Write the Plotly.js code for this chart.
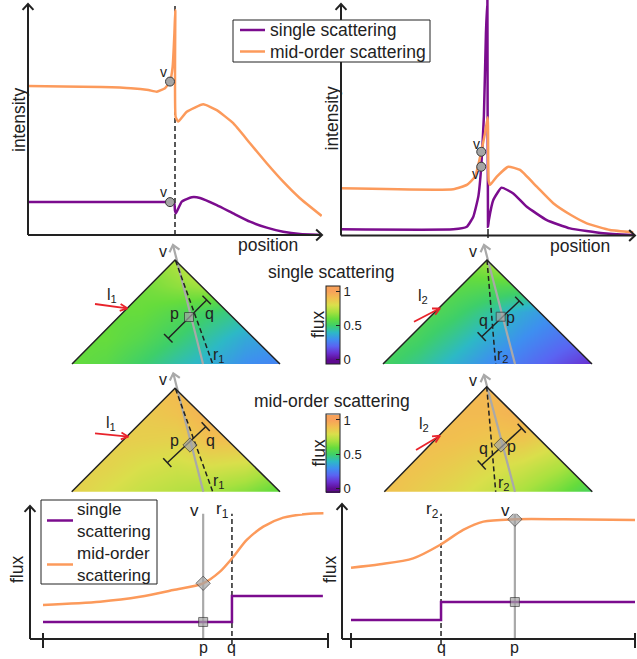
<!DOCTYPE html>
<html>
<head>
<meta charset="utf-8">
<script src="https://cdn.plot.ly/plotly-3.0.1.min.js"></script>
<style>
html,body{margin:0;padding:0;background:#ffffff;}
#chart{width:637px;height:659px;}
</style>
</head>
<body>
<div id="chart"></div>
<script>
// ================= DATA =================
const seriesNames = ['single scattering', 'mid-order scattering'];
const seriesNamesWrapped = ['single<br>scattering', 'mid-order<br>scattering'];

// Top-left: intensity along position (position 0..100)
const tlSinglePos = [0, 24.5, 47.6, 49.7, 50.0, 50.3, 52.3, 55.7, 58.5, 64.2, 69.8, 75.5, 81.2, 86.8, 92.5, 99.9];
const tlSingleInt = [14.3, 14.3, 14.3, 14.1, 10.5, 9.4, 14.5, 16.4, 16.1, 13.0, 9.4, 5.8, 3.2, 1.4, 0.4, 0];
const tlMidPos = [0, 12, 25, 35, 41, 43.8, 46.6, 48.3, 49.2, 49.8, 50.1, 50.2, 51.1, 54.0, 59.6, 64.2, 69.8, 75.5, 81.2, 86.8, 92.5, 99.9];
const tlMidInt = [64.8, 64.6, 64.3, 63.8, 63.0, 62.3, 63.8, 66.7, 73.2, 87.7, 97.8, 51.4, 49.3, 53.6, 56.8, 54.3, 48.6, 39.9, 31.2, 23.2, 16.0, 8.3];
const tlVPos = [48.3, 48.3];
const tlVInt = [14.3, 66.7];
const tlEdgePos = 50;

// Top-right
const trSinglePos = [0, 38.2, 42.8, 45.0, 46.7, 47.7, 48.6, 49.3, 49.8, 50.0, 50.3, 51.8, 54.6, 58.6, 63.2, 70.0, 77.9, 89.2, 99.4];
const trSingleInt = [2.7, 2.7, 3.8, 8.2, 16.9, 29.9, 51.7, 88.0, 102.4, 3.8, 6.7, 15.4, 20.8, 18.3, 12.5, 6.7, 3.1, 1.0, 0.2];
const trMidPos = [0, 38.2, 42.8, 45.6, 47.7, 49.0, 49.9, 50.2, 50.7, 53.0, 56.9, 60.9, 66.6, 72.2, 78.2, 83.6, 91.5, 99.4];
const trMidInt = [20.5, 20.1, 22.0, 25.6, 36.4, 44.6, 51.4, 24.1, 22.0, 25.6, 29.9, 28.5, 21.2, 14.0, 8.9, 5.3, 2.4, 1.4];
const trVPos = [47.7, 47.7];
const trVInt = [29.9, 36.4];
const trEdgePos = 50;

// Bottom-left: flux along the p-q line
const blSinglePos = [0, 66.3, 98.2];
const blSingleFlux = [12.9, 32.6, 32.6];
const blMidPos = [0, 20, 34, 45.7, 56.2, 62.1, 66.8, 71.5, 77.3, 84.3, 92.5, 98.4];
const blMidFlux = [25.8, 28.3, 32.0, 37.1, 42.2, 51.0, 62.3, 75.0, 85.1, 91.9, 94.7, 95.2];
const blP = 56.2, blQ = 66.3;
const blAtP = [12.9, 42.2];   // single, mid-order at p

// Bottom-right
const brSinglePos = [0, 31.7, 100];
const brSingleFlux = [14.4, 28.0, 28.0];
const brMidPos = [0, 10.2, 21.9, 31.3, 39.5, 46.6, 57.7, 74.8, 100];
const brMidFlux = [54.0, 56.6, 61.1, 71.2, 82.6, 88.9, 90.7, 90.7, 90.2];
const brP = 57.7, brQ = 31.7;
const brAtP = [28.0, 90.7];

// Flux fields in the triangles (rows: apex -> base, cols: left -> right)
const fluxSingleLeft = [
  [0.62, 0.62, 0.64, 0.72, 0.86, 0.85, 0.80],
  [0.61, 0.61, 0.62, 0.66, 0.70, 0.60, 0.55],
  [0.60, 0.60, 0.60, 0.56, 0.50, 0.45, 0.42],
  [0.60, 0.60, 0.56, 0.50, 0.43, 0.36, 0.33],
  [0.60, 0.57, 0.50, 0.43, 0.37, 0.30, 0.27]];
const fluxSingleRight = [
  [0.60, 0.60, 0.60, 0.70, 0.80, 0.70, 0.60],
  [0.60, 0.60, 0.58, 0.56, 0.55, 0.45, 0.40],
  [0.58, 0.57, 0.52, 0.45, 0.36, 0.30, 0.28],
  [0.56, 0.52, 0.45, 0.37, 0.30, 0.24, 0.20],
  [0.52, 0.46, 0.38, 0.30, 0.24, 0.17, 0.10]];
const fluxMidLeft = [
  [0.88, 0.88, 0.88, 0.92, 0.97, 0.95, 0.90],
  [0.88, 0.88, 0.87, 0.89, 0.95, 0.93, 0.90],
  [0.87, 0.86, 0.85, 0.84, 0.90, 0.90, 0.85],
  [0.86, 0.84, 0.80, 0.78, 0.80, 0.78, 0.70],
  [0.85, 0.80, 0.76, 0.73, 0.70, 0.65, 0.58]];
const fluxMidRight = [
  [0.92, 0.92, 0.92, 0.93, 0.96, 0.93, 0.90],
  [0.92, 0.92, 0.92, 0.92, 0.95, 0.90, 0.85],
  [0.92, 0.91, 0.90, 0.88, 0.88, 0.82, 0.75],
  [0.91, 0.89, 0.86, 0.82, 0.78, 0.72, 0.64],
  [0.90, 0.86, 0.82, 0.77, 0.70, 0.62, 0.52]];
const cbTickVals = [0, 0.5, 1];
const cbTickText = ['0', '0.5', '1'];
const cbRange = [-0.06, 1.08];

// ================= STYLE / LAYOUT GEOMETRY =================
const W = 637, H = 659;
const FONT = '"Liberation Sans", Arial, Helvetica, sans-serif';
const INK = '#222222', PURPLE = '#7b0c8e', ORANGE = '#fc9a5b', GRAY = '#a9a9a9', RED = '#e8232b';
// colour map defined over flux 0..1, then placed inside the (slightly wider) colour-bar range
const CMAP = [[0, '#5e0a90'], [0.1, '#6a2fd0'], [0.2, '#5a64f2'], [0.3, '#3e8ff0'], [0.4, '#2db9c6'],
  [0.5, '#3ecf6a'], [0.6, '#66dc3c'], [0.7, '#a8e13f'], [0.8, '#dadf4b'], [0.9, '#f1c04f'], [1, '#f8a25a']];
const COLORSCALE = [[0, CMAP[0][1]]].concat(
  CMAP.map(([v, c]) => [(v - cbRange[0]) / (cbRange[1] - cbRange[0]), c]),
  [[1, CMAP[CMAP.length - 1][1]]]);

const PANELS = {
  tl: {L: 28, R: 322, B: 235, T: 0, xr: [0, 100], yr: [0, 102.17]},
  tr: {L: 341, R: 635, B: 235.5, T: 0, xr: [0, 100], yr: [0, 102.39]},
  bl: {L: 30, R: 328, B: 639, T: 503, xr: [-4.56, 100], yr: [0, 103]},
  br: {L: 342, R: 635, B: 639, T: 503, xr: [-3.17, 100], yr: [0, 103]}
};
function pxX(p, x) { return p.L + (x - p.xr[0]) / (p.xr[1] - p.xr[0]) * (p.R - p.L); }
function xAx(p, anchor) { return {domain: [p.L / W, p.R / W], range: p.xr, visible: false, fixedrange: true, anchor}; }
function yAx(p, anchor) { return {domain: [1 - p.B / H, 1 - p.T / H], range: p.yr, visible: false, fixedrange: true, anchor}; }

const TRI = [
  {apex: [175, 260], bl: [72, 364], br: [280, 364], z: fluxSingleLeft, cbY: 325,
   gray: [[203, 364], [173, 245]], dash: [[175.5, 260.5], [212.7, 364]], mark: [189, 317], sym: 'square',
   brk: [[168.3, 338.3], [206.7, 300]], p: [174.3, 313.3], q: [209.3, 313.3], r: [218.5, 355], rT: 'r<sub>1</sub>',
   l: [111.7, 295], lT: 'l<sub>1</sub>', red: [[95, 304], [127.3, 308.3]], v: [163.3, 251.7]},
  {apex: [487, 260], bl: [383, 364], br: [592, 364], z: fluxSingleRight,
   gray: [[515, 364], [484, 245]], dash: [[487, 260], [495.7, 364]], mark: [500.7, 316.7], sym: 'square',
   brk: [[481.7, 336.7], [519.3, 301]], p: [510.5, 317.3], q: [483.3, 320], r: [503, 355], rT: 'r<sub>2</sub>',
   l: [423.3, 296.7], lT: 'l<sub>2</sub>', red: [[414, 321.7], [440, 308.3]], v: [473.3, 251.7]},
  {apex: [175, 388.3], bl: [71.7, 491.7], br: [280, 491.7], z: fluxMidLeft, cbY: 453.5,
   gray: [[203.3, 491.7], [173.3, 373.3]], dash: [[175.5, 388.8], [212.7, 491.7]], mark: [190, 445], sym: 'diamond',
   brk: [[167.3, 462.7], [205.7, 426.7]], p: [174.3, 440], q: [210, 440], r: [218.5, 481.7], rT: 'r<sub>1</sub>',
   l: [110.7, 423.3], lT: 'l<sub>1</sub>', red: [[95, 433.3], [128.3, 436.7]], v: [162.7, 379]},
  {apex: [486.7, 386.7], bl: [384.3, 491.7], br: [592.3, 491.7], z: fluxMidRight,
   gray: [[515, 491.7], [484, 375]], dash: [[486.7, 386.7], [495.7, 491.7]], mark: [501, 445], sym: 'diamond',
   brk: [[481.7, 465], [521.7, 428.3]], p: [511.7, 446.7], q: [483.3, 448.3], r: [503.5, 483.3], rT: 'r<sub>2</sub>',
   l: [424.3, 424.3], lT: 'l<sub>2</sub>', red: [[416, 450], [440, 435.7]], v: [473.3, 380]}
];

// legend boxes (canvas pixels)
const LEG = [
  {box: [233, 20, 430, 62], sym: [240, 265], textX: 268, rows: [30, 51.5], size: 17.5, names: seriesNames},
  {box: [41, 500, 157, 584], sym: [47, 73], textX: 75, rows: [520.5, 564.5], size: 17, names: seriesNamesWrapped}
];

function linspace(a, b, n) { const o = []; for (let i = 0; i < n; i++) o.push(a + (b - a) * i / (n - 1)); return o; }

// ================= TRACES =================
const traces = [];
const lineW = 2.5;
const base = {type: 'scatter', hoverinfo: 'skip', showlegend: false};
function S(o) { return Object.assign({}, base, o); }
const grayMarker = {color: '#a5a5a5', line: {color: '#3a3a3a', width: 1}};

// top-left
traces.push(S({mode: 'lines', x: tlSinglePos, y: tlSingleInt, xaxis: 'x', yaxis: 'y', name: seriesNames[0],
  line: {color: PURPLE, width: lineW, shape: 'spline', smoothing: 0.4}}));
traces.push(S({mode: 'lines', x: tlMidPos, y: tlMidInt, xaxis: 'x', yaxis: 'y', name: seriesNames[1],
  line: {color: ORANGE, width: lineW, shape: 'spline', smoothing: 0.4}}));
traces.push(S({mode: 'markers', x: tlVPos, y: tlVInt, xaxis: 'x', yaxis: 'y', cliponaxis: false,
  marker: Object.assign({symbol: 'circle', size: 9}, grayMarker)}));
// top-right
traces.push(S({mode: 'lines', x: trSinglePos, y: trSingleInt, xaxis: 'x2', yaxis: 'y2', name: seriesNames[0],
  line: {color: PURPLE, width: lineW, shape: 'spline', smoothing: 0.4}}));
traces.push(S({mode: 'lines', x: trMidPos, y: trMidInt, xaxis: 'x2', yaxis: 'y2', name: seriesNames[1],
  line: {color: ORANGE, width: lineW, shape: 'spline', smoothing: 0.4}}));
traces.push(S({mode: 'markers', x: trVPos, y: trVInt, xaxis: 'x2', yaxis: 'y2', cliponaxis: false,
  marker: Object.assign({symbol: 'circle', size: 9}, grayMarker)}));
// bottom-left
traces.push(S({mode: 'lines', x: blSinglePos, y: blSingleFlux, xaxis: 'x3', yaxis: 'y3', name: seriesNames[0],
  line: {color: PURPLE, width: lineW, shape: 'hv'}}));
traces.push(S({mode: 'lines', x: blMidPos, y: blMidFlux, xaxis: 'x3', yaxis: 'y3', name: seriesNames[1],
  line: {color: ORANGE, width: lineW, shape: 'spline', smoothing: 0.8}}));
traces.push(S({mode: 'markers', x: [blP, blP], y: blAtP, xaxis: 'x3', yaxis: 'y3', cliponaxis: false,
  marker: Object.assign({symbol: ['square', 'diamond'], size: [9, 11]}, grayMarker)}));
// bottom-right
traces.push(S({mode: 'lines', x: brSinglePos, y: brSingleFlux, xaxis: 'x4', yaxis: 'y4', name: seriesNames[0],
  line: {color: PURPLE, width: lineW, shape: 'hv'}}));
traces.push(S({mode: 'lines', x: brMidPos, y: brMidFlux, xaxis: 'x4', yaxis: 'y4', name: seriesNames[1],
  line: {color: ORANGE, width: lineW, shape: 'spline', smoothing: 0.8}}));
traces.push(S({mode: 'markers', x: [brP, brP], y: brAtP, xaxis: 'x4', yaxis: 'y4', cliponaxis: false,
  marker: Object.assign({symbol: ['square', 'diamond'], size: [9, 11]}, grayMarker)}));

// triangle heatmaps (canvas axes x5/y5 in pixel units)
TRI.forEach(t => {
  const hm = {type: 'heatmap', xaxis: 'x5', yaxis: 'y5', z: t.z,
    x: linspace(t.bl[0], t.br[0], t.z[0].length), y: linspace(t.apex[1], t.bl[1], t.z.length),
    zmin: cbRange[0], zmax: cbRange[1], colorscale: COLORSCALE, zsmooth: 'best', hoverinfo: 'skip', showscale: t.cbY !== undefined};
  if (t.cbY !== undefined) {
    hm.colorbar = {x: 325.5 / W, xanchor: 'left', y: 1 - t.cbY / H, yanchor: 'middle', len: 78 / H, lenmode: 'fraction',
      thickness: 13.5, thicknessmode: 'pixels', outlinewidth: 1, outlinecolor: INK, tickvals: cbTickVals, ticktext: cbTickText,
      ticks: 'inside', ticklen: 4, tickcolor: INK, tickwidth: 1, tickfont: {size: 13, color: INK, family: FONT},
      xpad: 0, ypad: 0, borderwidth: 0};
  }
  traces.push(hm);
});

// canvas helpers
function chevron(arrX, arrY, tail, tip, len, ang) {
  const dx = tip[0] - tail[0], dy = tip[1] - tail[1], L = Math.hypot(dx, dy), ux = dx / L, uy = dy / L;
  const c = Math.cos(ang), s = Math.sin(ang);
  const b1 = [tip[0] - len * (ux * c - uy * s), tip[1] - len * (uy * c + ux * s)];
  const b2 = [tip[0] - len * (ux * c + uy * s), tip[1] - len * (uy * c - ux * s)];
  arrX.push(b1[0], tip[0], b2[0], null); arrY.push(b1[1], tip[1], b2[1], null);
}
function canvasLine(x, y, line) { traces.push(S({mode: 'lines', x, y, xaxis: 'x5', yaxis: 'y5', line})); }

// white masks around the triangles
(function () {
  const mx = [], my = [], m = 22;
  TRI.forEach(t => {
    const [ax, ay] = t.apex, [lx, by] = t.bl, [rx] = t.br;
    const pts = [[lx - m, by + m], [lx - m, ay - m], [rx + m, ay - m], [rx + m, by + m], [lx, by + m], [lx, by], [rx, by], [ax, ay], [lx, by], [lx, by + m]];
    pts.forEach(p => { mx.push(p[0]); my.push(p[1]); });
    mx.push(null); my.push(null);
  });
  traces.push(S({mode: 'lines', x: mx, y: my, xaxis: 'x5', yaxis: 'y5', fill: 'toself', fillcolor: '#ffffff',
    line: {width: 0, color: '#ffffff'}}));
})();

// triangle decorations
(function () {
  const ox = [], oy = [], dx = [], dy = [], gx = [], gy = [], bx = [], by = [], rx = [], ry = [];
  TRI.forEach(t => {
    ox.push(t.bl[0], t.apex[0], t.br[0], null); oy.push(t.bl[1], t.apex[1], t.br[1], null);
    dx.push(t.dash[0][0], t.dash[1][0], null); dy.push(t.dash[0][1], t.dash[1][1], null);
    gx.push(t.gray[0][0], t.gray[1][0], null); gy.push(t.gray[0][1], t.gray[1][1], null);
    chevron(gx, gy, t.gray[0], t.gray[1], 8, 0.7);
    rx.push(t.red[0][0], t.red[1][0], null); ry.push(t.red[0][1], t.red[1][1], null);
    chevron(rx, ry, t.red[0], t.red[1], 8, 0.45);
    const [a, b] = t.brk; const L = Math.hypot(b[0] - a[0], b[1] - a[1]);
    const ux = (b[0] - a[0]) / L, uy = (b[1] - a[1]) / L, nx = -uy * 6, ny = ux * 6;
    bx.push(a[0], b[0], null, a[0] - nx, a[0] + nx, null, b[0] - nx, b[0] + nx, null);
    by.push(a[1], b[1], null, a[1] - ny, a[1] + ny, null, b[1] - ny, b[1] + ny, null);
  });
  canvasLine(gx, gy, {color: GRAY, width: 2.2});
  canvasLine(dx, dy, {color: INK, width: 1.5, dash: '5px,3px'});
  canvasLine(ox, oy, {color: INK, width: 1.5});
  canvasLine(bx, by, {color: INK, width: 1.5});
  canvasLine(rx, ry, {color: RED, width: 1.8});
  traces.push(S({mode: 'markers', x: TRI.map(t => t.mark[0]), y: TRI.map(t => t.mark[1]), xaxis: 'x5', yaxis: 'y5',
    marker: Object.assign({symbol: TRI.map(t => t.sym), size: TRI.map(t => t.sym === 'diamond' ? 11 : 9)}, grayMarker)}));
})();

// chart axes (lines, arrowheads, end caps)
(function () {
  const ax = [], ay = [];
  ['tl', 'tr'].forEach(k => {
    const p = PANELS[k];
    ax.push(p.L, p.L, null, p.L, p.R, null); ay.push(p.B, 4, null, p.B, p.B, null);
    chevron(ax, ay, [p.L, p.B], [p.L, 4], 8, 0.75);
    chevron(ax, ay, [p.L, p.B], [p.R, p.B], 8, 0.75);
  });
  ['bl', 'br'].forEach(k => {
    const p = PANELS[k];
    const top = k === 'bl' ? 506 : 504;
    ax.push(p.L, p.L, null, p.L, p.R, null); ay.push(p.B, top, null, p.B, p.B, null);
    chevron(ax, ay, [p.L, p.B], [p.L, top], 8, 0.75);
    const x0 = pxX(p, 0), x1 = pxX(p, 100);
    ax.push(x0, x0, null, x1, x1, null); ay.push(p.B - 6, p.B + 9, null, p.B - 6, p.B + 9, null);
  });
  canvasLine(ax, ay, {color: INK, width: 2});
})();

// ================= SHAPES =================
const shapes = [];
function vline(x, y0, y1, color, width, dash) {
  shapes.push({type: 'line', xref: 'paper', yref: 'paper', x0: x / W, x1: x / W, y0: 1 - y0 / H, y1: 1 - y1 / H,
    layer: 'below', line: {color, width, dash: dash || 'solid'}});
}
vline(pxX(PANELS.tl, tlEdgePos), 243, 4, INK, 1.5, '5px,3px');
vline(pxX(PANELS.tr, trEdgePos), 229, 243, INK, 1.5, 'solid');
vline(pxX(PANELS.bl, blP), PANELS.bl.B, 502, GRAY, 2.2);
vline(pxX(PANELS.bl, blQ), PANELS.bl.B + 5, 502, INK, 1.5, '5px,3px');
vline(pxX(PANELS.br, brP), PANELS.br.B, 502, GRAY, 2.2);
vline(pxX(PANELS.br, brQ), PANELS.br.B + 5, 502, INK, 1.5, '5px,3px');
// legend boxes and their line keys (drawn above the plots)
LEG.forEach(g => {
  shapes.push({type: 'rect', xref: 'x5', yref: 'y5', x0: g.box[0], y0: g.box[1], x1: g.box[2], y1: g.box[3],
    layer: 'above', fillcolor: '#ffffff', line: {color: INK, width: 1}});
  [PURPLE, ORANGE].forEach((c, i) => shapes.push({type: 'line', xref: 'x5', yref: 'y5', x0: g.sym[0], x1: g.sym[1],
    y0: g.rows[i], y1: g.rows[i], layer: 'above', line: {color: c, width: lineW}}));
});

// ================= ANNOTATIONS =================
const ann = [];
function txt(x, y, text, size, extra) {
  ann.push(Object.assign({xref: 'x5', yref: 'y5', x, y, text, showarrow: false, xanchor: 'center', yanchor: 'middle',
    font: {family: FONT, size, color: INK}}, extra || {}));
}
// legend texts
LEG.forEach(g => g.names.forEach((n, i) => txt(g.textX, g.rows[i], n, g.size, {xanchor: 'left', align: 'left'})));
// axis titles
txt(19, 120, 'intensity', 17.5, {textangle: -90});
txt(331.5, 119, 'intensity', 17.5, {textangle: -90});
txt(268, 245, 'position', 17.5);
txt(580, 246, 'position', 17.5);
txt(17, 570, 'flux', 17.5, {textangle: -90});
txt(330, 570, 'flux', 17.5, {textangle: -90});
// colorbar titles
txt(318, 325, 'flux', 17.5, {textangle: -90});
txt(318, 453.5, 'flux', 17.5, {textangle: -90});
txt(331, 272, seriesNames[0], 17.5);
txt(331.5, 401, seriesNames[1], 17.5);
// v labels at the top-chart markers
const vf = {family: FONT, size: 14, color: INK};
ann.push({xref: 'x', yref: 'y', x: tlVPos[0], y: tlVInt[0], text: 'v', showarrow: false, xshift: -7, yshift: 10, font: vf});
ann.push({xref: 'x', yref: 'y', x: tlVPos[1], y: tlVInt[1], text: 'v', showarrow: false, xshift: -7, yshift: 10, font: vf});
ann.push({xref: 'x2', yref: 'y2', x: trVPos[0], y: trVInt[0], text: 'v', showarrow: false, xshift: -6, yshift: -7, font: vf});
ann.push({xref: 'x2', yref: 'y2', x: trVPos[1], y: trVInt[1], text: 'v', showarrow: false, xshift: -5, yshift: 8, font: vf});
// triangle labels
TRI.forEach(t => {
  txt(t.v[0], t.v[1], 'v', 16);
  txt(t.p[0], t.p[1], 'p', 16);
  txt(t.q[0], t.q[1], 'q', 16);
  txt(t.r[0], t.r[1], t.rT, 16);
  txt(t.l[0], t.l[1], t.lT, 16);
});
// bottom chart labels
function bottomLabels(xref, P, Q, rT) {
  const o = {showarrow: false, xanchor: 'center', yanchor: 'middle', xref, yref: 'paper'};
  const f16 = {family: FONT, size: 16, color: INK}, f17 = {family: FONT, size: 17, color: INK};
  ann.push(Object.assign({x: P, y: 1 - 647.5 / H, text: 'p', font: f16}, o));
  ann.push(Object.assign({x: Q, y: 1 - 647.5 / H, text: 'q', font: f16}, o));
  ann.push(Object.assign({x: P, y: 1 - 510 / H, text: 'v', xshift: -9, font: f17}, o));
  ann.push(Object.assign({x: Q, y: 1 - 510 / H, text: rT, xshift: -9, font: f17}, o));
}
bottomLabels('x3', blP, blQ, 'r<sub>1</sub>');
bottomLabels('x4', brP, brQ, 'r<sub>2</sub>');

// ================= LAYOUT =================
const layout = {
  width: W, height: H, margin: {l: 0, r: 0, t: 0, b: 0, pad: 0},
  paper_bgcolor: '#ffffff', plot_bgcolor: 'rgba(0,0,0,0)',
  font: {family: FONT, color: INK, size: 16},
  showlegend: false,
  xaxis: xAx(PANELS.tl, 'y'), yaxis: yAx(PANELS.tl, 'x'),
  xaxis2: xAx(PANELS.tr, 'y2'), yaxis2: yAx(PANELS.tr, 'x2'),
  xaxis3: xAx(PANELS.bl, 'y3'), yaxis3: yAx(PANELS.bl, 'x3'),
  xaxis4: xAx(PANELS.br, 'y4'), yaxis4: yAx(PANELS.br, 'x4'),
  xaxis5: {domain: [0, 1], range: [0, W], visible: false, fixedrange: true, anchor: 'y5'},
  yaxis5: {domain: [0, 1], range: [H, 0], visible: false, fixedrange: true, anchor: 'x5'},
  shapes, annotations: ann
};
Plotly.newPlot('chart', traces, layout, {staticPlot: true, displayModeBar: false});
</script>
</body>
</html>
